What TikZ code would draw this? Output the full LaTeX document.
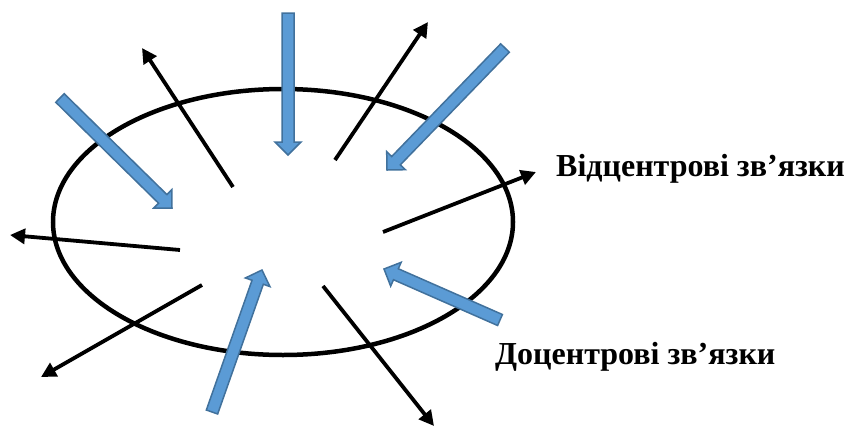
\documentclass[tikz,border=0pt]{standalone}
\usepackage{fontspec}
\setmainfont{Liberation Serif}
\usetikzlibrary{arrows.meta,calc,shapes.geometric}

\definecolor{fatfill}{HTML}{5B9BD5}
\definecolor{fatline}{HTML}{41719C}

% wide blue arrow from #1 to #2
\newcommand{\fatarrow}[2]{%
	\path[fat] let \p1=($(#2)-(#1)$), \n1={atan2(\y1,\x1)}, \n2={veclen(\x1,\y1)} in
		{[shift={(#1)},rotate=\n1] (0,-6) -- (\n2-13,-6) -- (\n2-13,-13) -- (\n2,0) -- (\n2-13,13) -- (\n2-13,6) -- (0,6) -- cycle};
}

\begin{document}
\begin{tikzpicture}[x=1pt,y=-1pt,
	out arrow/.style={line width=3.8pt,-{Triangle[length=15pt,width=15pt]}},
	fat/.style={draw=fatline,fill=fatfill,line width=1.5pt},
	label text/.style={font=\bfseries\fontsize{32}{37}\selectfont,inner sep=0,anchor=base west}]
	\useasboundingbox (0,0) rectangle (849,426);
	\node[draw,ellipse,line width=4.5pt,inner sep=0,minimum width=460pt,minimum height=266pt] (sys) at (283,222) {};

	% outward arrows
	\coordinate (o1s) at (233,187); \coordinate (o1e) at (142,48);
	\coordinate (o2s) at (335,160); \coordinate (o2e) at (428,22);
	\coordinate (o3s) at (383,232); \coordinate (o3e) at (536,172);
	\coordinate (o4s) at (180,250); \coordinate (o4e) at (10,235);
	\coordinate (o5s) at (202,285); \coordinate (o5e) at (41,377);
	\coordinate (o6s) at (323,286); \coordinate (o6e) at (434,426);
	\draw[out arrow] (o1s) -- (o1e);
	\draw[out arrow] (o2s) -- (o2e);
	\draw[out arrow] (o3s) -- (o3e);
	\draw[out arrow] (o4s) -- (o4e);
	\draw[out arrow] (o5s) -- (o5e);
	\draw[out arrow] (o6s) -- (o6e);

	% inward arrows
	\coordinate (i1s) at (288,13);  \coordinate (i1e) at (288,155);
	\coordinate (i2s) at (505,48);  \coordinate (i2e) at (387,170);
	\coordinate (i3s) at (60,98);   \coordinate (i3e) at (172,208);
	\coordinate (i4s) at (500,320); \coordinate (i4e) at (384,269);
	\coordinate (i5s) at (212,412); \coordinate (i5e) at (262,270);
	\fatarrow{i1s}{i1e}
	\fatarrow{i2s}{i2e}
	\fatarrow{i3s}{i3e}
	\fatarrow{i4s}{i4e}
	\fatarrow{i5s}{i5e}

	\node[label text] (outl) at (556,176) {Відцентрові зв’язки};
	\node[label text] (inl) at (495,364) {Доцентрові зв’язки};
\end{tikzpicture}
\end{document}
